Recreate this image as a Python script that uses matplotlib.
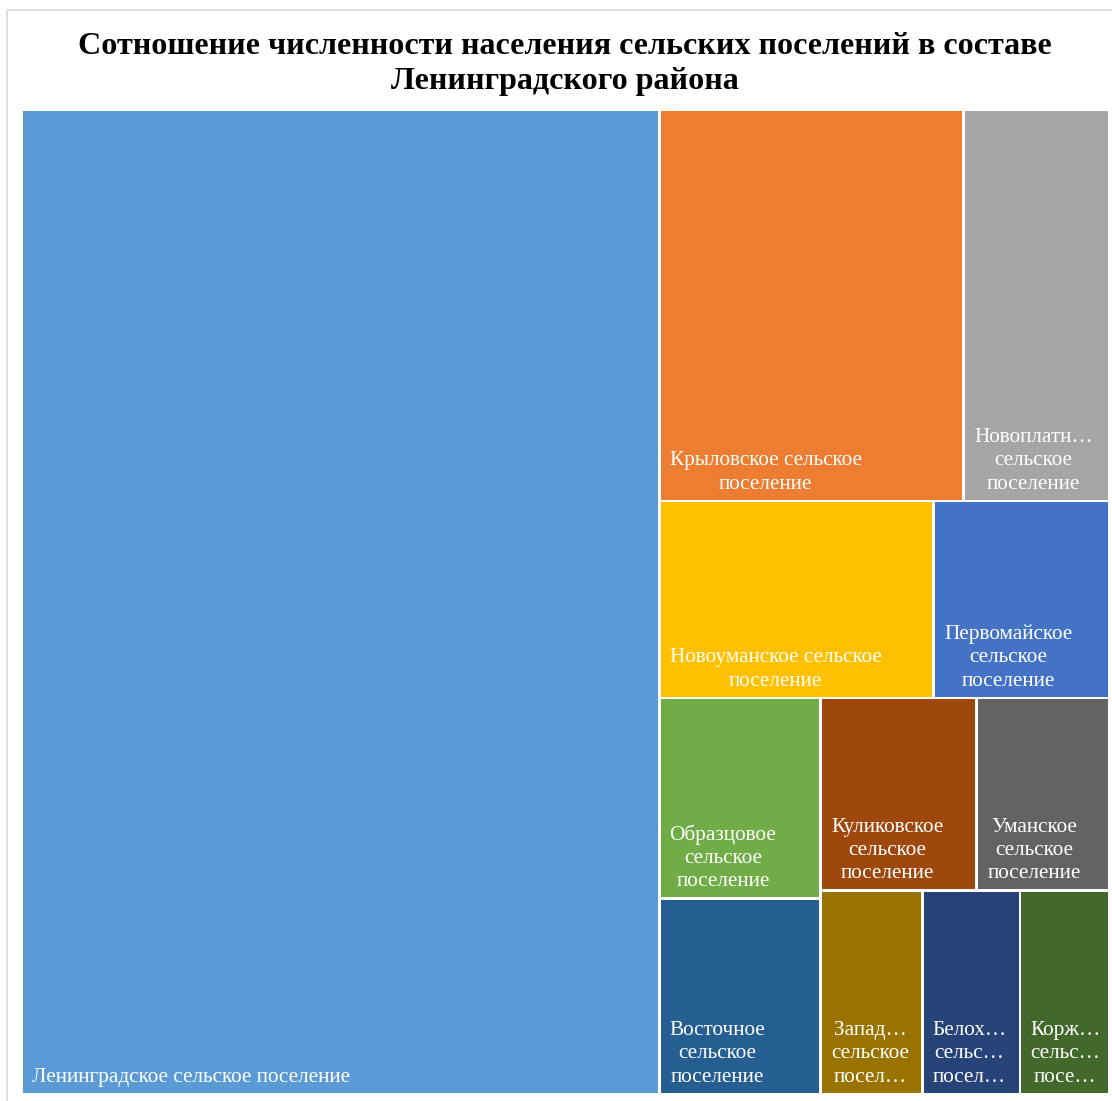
import matplotlib
matplotlib.use("Agg")
import matplotlib.pyplot as plt
from matplotlib.patches import Rectangle

# Население сельских поселений Ленинградского района, чел.
names = ["Ленинградское сельское поселение",
         "Крыловское сельское поселение",
         "Новоплатнировское сельское поселение",
         "Новоуманское сельское поселение",
         "Первомайское сельское поселение",
         "Образцовое сельское поселение",
         "Восточное сельское поселение",
         "Куликовское сельское поселение",
         "Уманское сельское поселение",
         "Западное сельское поселение",
         "Белохуторское сельское поселение",
         "Коржовское сельское поселение"]
population = [37000, 7030, 3350, 3190, 2040, 1910, 1860, 1775, 1500, 1220, 1175, 1070]
# подписи в том виде, как они помещаются в прямоугольники
labels = ["Ленинградское сельское поселение",
          "Крыловское сельское\nпоселение",
          "Новоплатн…\nсельское\nпоселение",
          "Новоуманское сельское\nпоселение",
          "Первомайское\nсельское\nпоселение",
          "Образцовое\nсельское\nпоселение",
          "Восточное\nсельское\nпоселение",
          "Куликовское\nсельское\nпоселение",
          "Уманское\nсельское\nпоселение",
          "Запад…\nсельское\nпосел…",
          "Белох…\nсельс…\nпосел…",
          "Корж…\nсельс…\nпосе…"]
colors = ["#5B9BD5", "#ED7D31", "#A5A5A5", "#FFC000", "#4472C4", "#70AD47",
          "#255E91", "#9E480E", "#636363", "#997300", "#264478", "#43682B"]

# полосы раскладки: (число элементов, направление)
strips = [(1, "col"), (2, "row"), (2, "row"), (2, "col"), (2, "row"), (3, "row")]

FW, FH = 1112, 1101
X0, Y0, X1, Y1 = 22, 110, 1109, 1094
W, H = X1 - X0, Y1 - Y0


def treemap(values, w, h, strips):
    total = float(sum(values))
    areas = [v / total * w * h for v in values]
    x, y, rw, rh = 0.0, 0.0, float(w), float(h)
    rects = []
    i = 0
    for n, kind in strips:
        part = areas[i:i + n]
        s = sum(part)
        if kind == "col":
            sw = s / rh
            yy = y
            for a in part:
                ih = a / sw
                rects.append((x, yy, sw, ih))
                yy += ih
            x += sw
            rw -= sw
        else:
            sh = s / rw
            xx = x
            for a in part:
                iw = a / sh
                rects.append((xx, y, iw, sh))
                xx += iw
            y += sh
            rh -= sh
        i += n
    return rects


plt.rcParams['font.family'] = ['Liberation Serif', 'DejaVu Serif']

fig = plt.figure(figsize=(FW / 100, FH / 100), dpi=100)
fig.patch.set_facecolor("white")

# рамка области диаграммы
fig.add_artist(Rectangle((6.5 / FW, -0.1), 1.2, 1 - 10 / FH + 0.1,
                         transform=fig.transFigure, fill=False,
                         edgecolor="#D9D9D9", linewidth=1.2))

ax = fig.add_axes([X0 / FW, 1 - Y1 / FH, W / FW, H / FH])
ax.set_xlim(0, W)
ax.set_ylim(H, 0)
ax.axis("off")

gap = 1.4
for (rx, ry, rw, rh), lab, col in zip(treemap(population, W, H, strips), labels, colors):
    ax.add_patch(Rectangle((rx + gap, ry + gap), rw - 2 * gap, rh - 2 * gap,
                           facecolor=col, edgecolor="none"))
    ax.text(rx + gap + 9, ry + rh - gap - 6, lab, color="white", fontsize=15.3,
            ha="left", va="bottom", multialignment="center", linespacing=1.3)

fig.text(0.508, 1 - 64 / FH, "Сотношение численности населения сельских поселений в составе\nЛенинградского района",
         ha="center", va="center", fontsize=23.1, fontweight="bold", linespacing=1.27)

fig.savefig("out.png", dpi=100)
